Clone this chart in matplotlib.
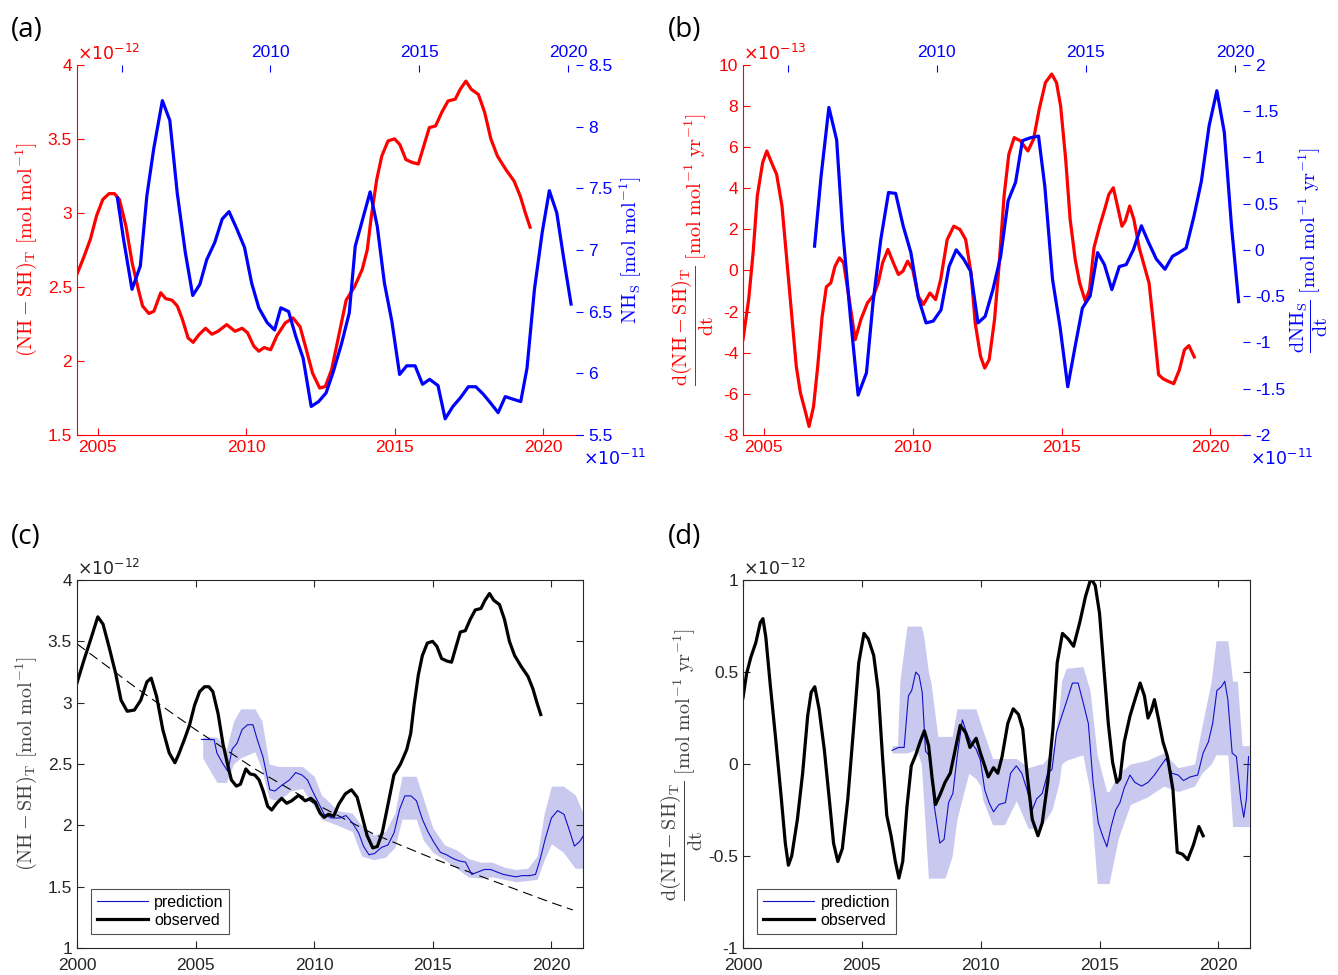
import numpy as np
import matplotlib
matplotlib.use("Agg")
import matplotlib.pyplot as plt

plt.rcParams["font.family"] = ["Liberation Sans", "DejaVu Sans"]
plt.rcParams["mathtext.fontset"] = "cm"

RED = "#ff0000"
BLUE = "#0000ff"
BAND = "#c9c9f0"
GREY = "#262626"

# ---- observed (NH - SH)_T, units 1e-12 mol/mol (panels a, c)
obs_yr = [2000.0, 2000.3, 2000.57, 2000.88, 2001.1, 2001.36, 2001.63, 2001.86, 2002.12, 2002.42,
          2002.69, 2002.95, 2003.13, 2003.36, 2003.62, 2003.89, 2004.13,
          2004.29, 2004.53, 2004.75, 2004.96, 2005.17, 2005.38, 2005.56, 2005.73, 2005.95, 2006.16,
          2006.37, 2006.51, 2006.72, 2006.89, 2007.12, 2007.29, 2007.5, 2007.68, 2007.85, 2008.04,
          2008.21, 2008.42, 2008.63, 2008.84, 2009.05, 2009.34, 2009.62, 2009.86, 2010.04, 2010.25,
          2010.42, 2010.6, 2010.82, 2011.03, 2011.31, 2011.57, 2011.81, 2012.02, 2012.23, 2012.47,
          2012.66, 2012.87, 2013.08, 2013.36, 2013.64, 2013.9, 2014.07, 2014.21, 2014.39, 2014.56,
          2014.77, 2014.99, 2015.17, 2015.37, 2015.59, 2015.79, 2015.97, 2016.16, 2016.37, 2016.58,
          2016.79, 2017.03, 2017.2, 2017.39, 2017.57, 2017.81, 2018.02, 2018.23, 2018.45, 2018.73,
          2019.01, 2019.22, 2019.39, 2019.55]
obs_val = [3.16, 3.35, 3.51, 3.70, 3.64, 3.45, 3.24, 3.02, 2.93, 2.94,
           3.02, 3.17, 3.20, 3.05, 2.78, 2.59, 2.51,
           2.58, 2.70, 2.82, 2.98, 3.09, 3.13, 3.13, 3.09, 2.91, 2.66,
           2.48, 2.37, 2.32, 2.335, 2.46, 2.42, 2.41, 2.37, 2.28, 2.155,
           2.125, 2.18, 2.22, 2.18, 2.20, 2.245, 2.20, 2.22, 2.19, 2.10,
           2.065, 2.09, 2.075, 2.17, 2.256, 2.29, 2.23, 2.075, 1.917, 1.816,
           1.827, 1.94, 2.14, 2.41, 2.50, 2.617, 2.75, 2.98, 3.226, 3.384,
           3.486, 3.50, 3.46, 3.36, 3.34, 3.33, 3.45, 3.576, 3.587, 3.68,
           3.756, 3.768, 3.835, 3.89, 3.835, 3.80, 3.68, 3.50, 3.384, 3.294,
           3.215, 3.113, 3.0, 2.903]

# ---- NH_S, units 1e-11 mol/mol (panel a, top/right axes)
nhs_yr = [2004.86, 2005.07, 2005.35, 2005.63, 2005.85, 2006.08, 2006.37, 2006.62, 2006.87, 2007.14,
          2007.39, 2007.63, 2007.86, 2008.13, 2008.38, 2008.61, 2008.87, 2009.13, 2009.37, 2009.61,
          2009.89, 2010.14, 2010.35, 2010.61, 2010.85, 2011.1, 2011.37, 2011.62, 2011.87, 2012.11,
          2012.39, 2012.65, 2012.85, 2013.1, 2013.35, 2013.59, 2013.83, 2014.08, 2014.34, 2014.58,
          2014.86, 2015.11, 2015.35, 2015.63, 2015.87, 2016.13, 2016.38, 2016.65, 2016.9, 2017.15,
          2017.39, 2017.65, 2017.89, 2018.14, 2018.41, 2018.62, 2018.87, 2019.13, 2019.37, 2019.62,
          2019.86, 2020.1]
nhs_val = [7.42, 7.08, 6.68, 6.87, 7.44, 7.82, 8.21, 8.05, 7.46, 6.98,
           6.63, 6.72, 6.92, 7.06, 7.25, 7.31, 7.17, 7.02, 6.73, 6.53,
           6.41, 6.35, 6.53, 6.50, 6.30, 6.12, 5.73, 5.77, 5.84, 6.01,
           6.24, 6.49, 7.03, 7.25, 7.47, 7.19, 6.73, 6.42, 5.99, 6.06,
           6.06, 5.91, 5.95, 5.90, 5.63, 5.73, 5.80, 5.89, 5.89, 5.83,
           5.76, 5.68, 5.81, 5.79, 5.77, 6.04, 6.68, 7.14, 7.48, 7.30,
           6.92, 6.56]

# ---- d(NH - SH)_T/dt, units 1e-13 (panel b)
dobs_b_yr = [2004.3, 2004.49, 2004.64, 2004.78, 2004.96, 2005.1, 2005.26, 2005.43, 2005.61, 2005.77,
             2005.94, 2006.09, 2006.23, 2006.38, 2006.52, 2006.67, 2006.81, 2006.96, 2007.1, 2007.25,
             2007.39, 2007.54, 2007.68, 2007.87, 2008.07, 2008.26, 2008.48, 2008.7, 2008.84, 2008.99,
             2009.17, 2009.35, 2009.52, 2009.67, 2009.83, 2010.0, 2010.19, 2010.36, 2010.58, 2010.77,
             2010.94, 2011.16, 2011.38, 2011.59, 2011.78, 2011.96, 2012.1, 2012.28, 2012.42, 2012.57,
             2012.75, 2012.9, 2013.07, 2013.23, 2013.41, 2013.62, 2013.87, 2014.06, 2014.25, 2014.46,
             2014.67, 2014.83, 2014.97, 2015.14, 2015.29, 2015.46, 2015.61, 2015.8, 2015.94, 2016.09,
             2016.28, 2016.45, 2016.59, 2016.74, 2016.88, 2017.03, 2017.14, 2017.29, 2017.43, 2017.61,
             2017.75, 2017.94, 2018.12, 2018.26, 2018.41, 2018.59, 2018.77, 2018.96, 2019.13, 2019.28,
             2019.46]
dobs_b_val = [-3.37, -1.42, 0.86, 3.62, 5.24, 5.81, 5.24, 4.67, 3.13, 0.53,
              -2.23, -4.67, -5.97, -6.78, -7.59, -6.62, -4.67, -2.23, -0.8, -0.61,
              0.2, 0.61, 0.37, -1.42, -3.37, -2.39, -1.58, -1.18, -0.61, 0.37,
              1.02, 0.37, -0.2, -0.04, 0.45, 0.04, -1.26, -1.66, -1.1, -1.42,
              -0.45, 1.5, 2.15, 1.99, 1.5, -0.12, -2.56, -4.18, -4.75, -4.34,
              -2.39, 0.2, 3.62, 5.65, 6.46, 6.3, 5.81, 6.38, 7.84, 9.14,
              9.55, 9.14, 8.0, 5.4, 2.48, 0.53, -0.61, -1.5, -0.93, 1.1,
              2.15, 2.97, 3.7, 4.02, 3.13, 2.15, 2.4, 3.13, 2.48, 1.1,
              0.37, -0.61, -3.04, -5.07, -5.27, -5.4, -5.51, -4.83, -3.86, -3.66,
              -4.21]

# ---- dNH_S/dt, units 1e-11 (panel b, top/right axes)
dnhs_yr = [2005.9, 2006.12, 2006.38, 2006.64, 2006.84, 2007.1, 2007.36, 2007.64, 2007.86, 2008.12,
           2008.38, 2008.62, 2008.87, 2009.13, 2009.38, 2009.64, 2009.88, 2010.14, 2010.41, 2010.65,
           2010.9, 2011.13, 2011.38, 2011.62, 2011.88, 2012.14, 2012.39, 2012.64, 2012.87, 2013.12,
           2013.41, 2013.62, 2013.88, 2014.13, 2014.39, 2014.64, 2014.88, 2015.14, 2015.39, 2015.62,
           2015.87, 2016.12, 2016.35, 2016.59, 2016.86, 2017.1, 2017.36, 2017.65, 2017.9, 2018.12,
           2018.36, 2018.62, 2018.87, 2019.13, 2019.39, 2019.64, 2019.88, 2020.12]
dnhs_val = [0.04, 0.8, 1.54, 1.19, 0.22, -0.72, -1.57, -1.33, -0.57, 0.11,
            0.62, 0.61, 0.26, -0.03, -0.52, -0.79, -0.77, -0.65, -0.18, 0.0,
            -0.1, -0.23, -0.79, -0.72, -0.43, -0.07, 0.53, 0.73, 1.18, 1.21,
            1.23, 0.69, -0.32, -0.83, -1.48, -1.04, -0.63, -0.5, -0.03, -0.16,
            -0.43, -0.18, -0.16, 0.0, 0.26, 0.08, -0.1, -0.21, -0.07, -0.03,
            0.02, 0.36, 0.74, 1.34, 1.72, 1.27, 0.26, -0.56]

# ---- panel c: prediction, uncertainty band, trend (units 1e-12)
pred_c_yr = [2005.25, 2005.78, 2005.9, 2006.13, 2006.36, 2006.54, 2006.75, 2006.96, 2007.19, 2007.42,
             2007.6, 2007.84, 2008.13, 2008.34, 2008.66, 2008.96, 2009.22, 2009.49, 2009.72, 2009.93,
             2010.19, 2010.42, 2010.72, 2011.08, 2011.34, 2011.61, 2011.87, 2012.08, 2012.31, 2012.54,
             2012.84, 2013.11, 2013.37, 2013.6, 2013.82, 2014.08, 2014.31, 2014.56, 2014.79, 2015.05,
             2015.32, 2015.58, 2015.85, 2016.11, 2016.38, 2016.64, 2016.91, 2017.17, 2017.44, 2017.7,
             2017.97, 2018.23, 2018.5, 2018.76, 2019.08, 2019.33, 2019.52, 2019.74, 2020.0, 2020.26,
             2020.53, 2020.74, 2020.97, 2021.2, 2021.33]
pred_c_val = [2.70, 2.70, 2.59, 2.51, 2.44, 2.62, 2.67, 2.78, 2.82, 2.82,
              2.70, 2.56, 2.29, 2.28, 2.33, 2.37, 2.43, 2.41, 2.37, 2.28,
              2.18, 2.09, 2.06, 2.06, 2.08, 2.02, 1.94, 1.83, 1.76, 1.77,
              1.82, 1.84, 1.94, 2.13, 2.24, 2.24, 2.20, 2.05, 1.95, 1.86,
              1.78, 1.76, 1.73, 1.71, 1.70, 1.60, 1.62, 1.64, 1.64, 1.62,
              1.60, 1.59, 1.58, 1.59, 1.59, 1.60, 1.72, 1.89, 2.06, 2.12,
              2.09, 1.97, 1.83, 1.87, 1.91]
band_c_yr = [2005.3, 2005.9, 2006.3, 2006.6, 2006.9, 2007.5, 2007.8, 2008.1, 2008.5, 2009.0,
             2009.5, 2010.0, 2010.3, 2011.0, 2011.6, 2012.0, 2012.5, 2013.0, 2013.4, 2013.7,
             2014.3, 2014.6, 2015.0, 2015.5, 2016.0, 2016.5, 2017.0, 2017.5, 2018.0, 2018.5,
             2019.0, 2019.4, 2019.7, 2020.0, 2020.5, 2021.0, 2021.33]
band_c_hi = [2.72, 2.72, 2.62, 2.85, 2.95, 2.95, 2.85, 2.50, 2.48, 2.48,
             2.48, 2.40, 2.25, 2.12, 2.10, 2.00, 1.92, 1.95, 2.10, 2.40,
             2.40, 2.22, 1.98, 1.84, 1.80, 1.73, 1.70, 1.70, 1.66, 1.64,
             1.65, 1.75, 2.10, 2.32, 2.32, 2.25, 2.10]
band_c_lo = [2.55, 2.35, 2.35, 2.50, 2.55, 2.60, 2.45, 2.22, 2.20, 2.28,
             2.30, 2.15, 2.05, 2.00, 1.95, 1.75, 1.72, 1.74, 1.82, 2.05,
             2.05, 1.88, 1.78, 1.72, 1.65, 1.58, 1.57, 1.58, 1.56, 1.54,
             1.55, 1.56, 1.72, 1.85, 1.78, 1.65, 1.65]
trend_yr = [2000.0, 2002.5, 2005.0, 2007.5, 2010.0, 2012.5, 2015.0, 2017.5, 2020.0, 2020.9]
trend_val = [3.48, 3.12, 2.78, 2.46, 2.18, 1.93, 1.73, 1.55, 1.37, 1.31]

# ---- panel d: observed derivative, prediction, band (units 1e-12)
dobs_d_yr = [2000.0, 2000.15, 2000.33, 2000.54, 2000.73, 2000.84, 2000.96, 2001.14, 2001.38, 2001.6,
             2001.78, 2001.91, 2002.05, 2002.29, 2002.51, 2002.72, 2002.87, 2003.02, 2003.2, 2003.42,
             2003.63, 2003.81, 2003.99, 2004.18, 2004.41, 2004.65, 2004.87, 2005.09, 2005.27, 2005.5,
             2005.69, 2005.87, 2006.05, 2006.23, 2006.41, 2006.56, 2006.72, 2006.9, 2007.08, 2007.27,
             2007.45, 2007.63, 2007.81, 2007.96, 2008.1, 2008.28, 2008.5, 2008.72, 2008.9, 2009.14,
             2009.37, 2009.55, 2009.81, 2009.99, 2010.17, 2010.32, 2010.54, 2010.72, 2010.9, 2011.14,
             2011.37, 2011.59, 2011.77, 2011.95, 2012.17, 2012.41, 2012.59, 2012.82, 2013.04, 2013.22,
             2013.44, 2013.68, 2013.91, 2014.17, 2014.41, 2014.64, 2014.82, 2015.0, 2015.19, 2015.37,
             2015.55, 2015.73, 2015.86, 2016.04, 2016.28, 2016.49, 2016.71, 2016.89, 2017.04, 2017.18,
             2017.31, 2017.49, 2017.67, 2017.86, 2018.09, 2018.27, 2018.49, 2018.71, 2018.95, 2019.18,
             2019.36]
dobs_d_val = [0.36, 0.49, 0.58, 0.66, 0.77, 0.79, 0.69, 0.44, 0.13, -0.17,
              -0.43, -0.55, -0.50, -0.30, -0.05, 0.26, 0.39, 0.42, 0.30, 0.08,
              -0.19, -0.43, -0.53, -0.46, -0.19, 0.19, 0.55, 0.71, 0.68, 0.59,
              0.40, 0.04, -0.28, -0.39, -0.53, -0.62, -0.53, -0.23, -0.01, 0.05,
              0.12, 0.18, 0.10, -0.08, -0.22, -0.17, -0.10, -0.05, 0.06, 0.21,
              0.17, 0.09, 0.14, 0.06, -0.01, -0.07, -0.02, -0.05, 0.04, 0.22,
              0.30, 0.27, 0.19, -0.05, -0.30, -0.39, -0.32, -0.10, 0.19, 0.55,
              0.71, 0.68, 0.64, 0.77, 0.91, 1.01, 0.97, 0.82, 0.51, 0.22,
              0.01, -0.10, -0.08, 0.12, 0.26, 0.35, 0.44, 0.37, 0.25, 0.29,
              0.35, 0.24, 0.12, 0.04, -0.14, -0.48, -0.49, -0.52, -0.44, -0.34,
              -0.39]
pred_d_yr = [2006.27, 2006.54, 2006.78, 2006.96, 2007.1, 2007.27, 2007.41, 2007.54, 2007.68, 2007.87,
             2008.05, 2008.28, 2008.46, 2008.65, 2008.83, 2009.01, 2009.23, 2009.41, 2009.59, 2009.81,
             2009.99, 2010.17, 2010.35, 2010.54, 2010.77, 2011.04, 2011.26, 2011.5, 2011.73, 2011.95,
             2012.17, 2012.35, 2012.59, 2012.82, 2013.0, 2013.19, 2013.41, 2013.59, 2013.86, 2014.1,
             2014.32, 2014.53, 2014.73, 2014.95, 2015.13, 2015.31, 2015.49, 2015.68, 2015.86, 2016.04,
             2016.28, 2016.49, 2016.77, 2017.04, 2017.31, 2017.58, 2017.8, 2018.04, 2018.31, 2018.53,
             2018.82, 2019.13, 2019.36, 2019.58, 2019.76, 2019.94, 2020.13, 2020.27, 2020.4, 2020.58,
             2020.76, 2020.94, 2021.07, 2021.18, 2021.27]
pred_d_val = [0.074, 0.09, 0.09, 0.37, 0.40, 0.50, 0.48, 0.39, 0.07, 0.04,
              -0.23, -0.43, -0.41, -0.21, -0.16, 0.04, 0.24, 0.17, 0.12, 0.08,
              0.02, -0.14, -0.21, -0.26, -0.22, -0.21, -0.05, -0.01, -0.05, -0.14,
              -0.25, -0.19, -0.16, -0.05, -0.03, 0.17, 0.26, 0.33, 0.44, 0.44,
              0.33, 0.22, -0.10, -0.32, -0.39, -0.45, -0.34, -0.25, -0.21, -0.13,
              -0.06, -0.10, -0.12, -0.10, -0.06, -0.01, 0.03, -0.05, -0.06, -0.09,
              -0.07, -0.06, 0.06, 0.12, 0.22, 0.40, 0.42, 0.45, 0.35, 0.06,
              0.04, -0.19, -0.29, -0.19, 0.04]
band_d_yr = [2006.27, 2006.5, 2006.6, 2006.9, 2007.3, 2007.5, 2007.6, 2007.8, 2007.9, 2008.2,
             2008.5, 2008.8, 2009.0, 2009.5, 2009.8, 2010.0, 2010.1, 2010.5, 2011.0, 2011.5,
             2012.0, 2012.5, 2012.6, 2013.0, 2013.3, 2013.4, 2013.6, 2014.3, 2014.6, 2014.9,
             2015.3, 2015.4, 2015.8, 2016.3, 2017.0, 2017.7, 2018.3, 2019.0, 2019.3, 2019.7,
             2019.9, 2020.0, 2020.4, 2020.6, 2020.8, 2021.0, 2021.3]
band_d_hi = [0.10, 0.10, 0.45, 0.75, 0.75, 0.75, 0.70, 0.50, 0.45, 0.15,
             0.15, 0.15, 0.30, 0.30, 0.30, 0.22, 0.18, 0.03, 0.03, 0.03,
             -0.02, 0.0, 0.0, 0.06, 0.30, 0.45, 0.52, 0.53, 0.40, 0.05,
             -0.15, -0.15, -0.05, 0.0, 0.02, 0.06, -0.02, 0.0, 0.20, 0.45,
             0.67, 0.67, 0.67, 0.45, 0.45, 0.10, 0.10]
band_d_lo = [0.06, 0.06, 0.06, 0.06, 0.08, 0.0, -0.20, -0.62, -0.62, -0.62,
             -0.62, -0.50, -0.30, -0.05, -0.08, -0.12, -0.20, -0.33, -0.33, -0.20,
             -0.35, -0.35, -0.33, -0.25, -0.10, 0.0, 0.02, 0.05, -0.15, -0.65,
             -0.65, -0.65, -0.40, -0.22, -0.18, -0.12, -0.15, -0.12, -0.05, 0.0,
             0.05, 0.05, 0.05, -0.34, -0.34, -0.34, -0.34]

# ---- axis ranges / ticks
red_xlim = (2004.3, 2021.33)
blue_xlim = (2003.5, 2020.5)
year_ticks = [2005, 2010, 2015, 2020]
top_labels = ["", "2010", "2015", "2020"]
cd_xlim = (2000, 2021.33)
cd_xticks = [2000, 2005, 2010, 2015, 2020]

TICK_FS = 12.5
LAB_FS = 14.5

fig = plt.figure(figsize=(13.38, 9.75), dpi=100)

rect_a = [0.0575, 0.554, 0.3782, 0.3795]
rect_b = [0.5553, 0.554, 0.3789, 0.3795]
rect_c = [0.0575, 0.0277, 0.3782, 0.3774]
rect_d = [0.5553, 0.0277, 0.3789, 0.3774]

LAB_OBS = r"$(\mathrm{NH}-\mathrm{SH})_{\mathrm{T}}\ [\mathrm{mol\ mol}^{-1}]$"
LAB_DOBS = r"$\dfrac{\mathrm{d(NH-SH)_T}}{\mathrm{dt}}\ [\mathrm{mol\ mol}^{-1}\ \mathrm{yr}^{-1}]$"


def dual_axes(rect, name):
    ax = fig.add_axes(rect, label=name + "_red")
    ax2 = fig.add_axes(rect, label=name + "_blue", frameon=False)
    ax2.patch.set_visible(False)
    ax2.xaxis.tick_top()
    ax2.yaxis.tick_right()
    ax2.yaxis.set_label_position("right")
    for s in ("top", "right"):
        ax.spines[s].set_visible(False)
    for s in ("left", "bottom"):
        ax.spines[s].set_color(RED)
    ax2.spines["top"].set_visible(True)
    ax2.spines["right"].set_visible(True)
    ax2.spines["top"].set_color(BLUE)
    ax2.spines["right"].set_color(BLUE)
    ax.tick_params(direction="in", colors=RED, labelsize=TICK_FS, length=5)
    ax2.tick_params(direction="in", colors=BLUE, labelsize=TICK_FS, length=5)
    ax.set_xlim(*red_xlim)
    ax2.set_xlim(*blue_xlim)
    ax.set_xticks(year_ticks)
    ax2.set_xticks(year_ticks)
    ax2.set_xticklabels(top_labels)
    return ax, ax2


def offset_label(ax, txt, color, x, y, va, ha="left"):
    ax.text(x, y, txt, transform=ax.transAxes, color=color, fontsize=TICK_FS,
            ha=ha, va=va, math_fontfamily="dejavusans")


# ---------------- (a)
ax, ax2 = dual_axes(rect_a, "a")
ax.plot(obs_yr, obs_val, color=RED, lw=2.3)
ax2.plot(nhs_yr, nhs_val, color=BLUE, lw=2.3)
ax.set_ylim(1.5, 4)
ax.set_yticks([1.5, 2, 2.5, 3, 3.5, 4])
ax.set_yticklabels(["1.5", "2", "2.5", "3", "3.5", "4"])
ax2.set_ylim(5.5, 8.5)
ax2.set_yticks([5.5, 6, 6.5, 7, 7.5, 8, 8.5])
ax2.set_yticklabels(["5.5", "6", "6.5", "7", "7.5", "8", "8.5"])
ax.set_ylabel(LAB_OBS, color=RED, fontsize=LAB_FS, labelpad=6)
ax2.set_ylabel(r"$\mathrm{NH_S}\ [\mathrm{mol\ mol}^{-1}]$", color=BLUE,
               fontsize=LAB_FS, labelpad=4)
offset_label(ax, r"$\times10^{-12}$", RED, 0.0, 1.005, "bottom")
offset_label(ax2, r"$\times10^{-11}$", BLUE, 1.0, -0.035, "top")

# ---------------- (b)
ax, ax2 = dual_axes(rect_b, "b")
ax.plot(dobs_b_yr, dobs_b_val, color=RED, lw=2.3)
ax2.plot(dnhs_yr, dnhs_val, color=BLUE, lw=2.3)
ax.set_ylim(-8, 10)
ax.set_yticks(range(-8, 11, 2))
ax.set_yticklabels([str(v) for v in range(-8, 11, 2)])
ax2.set_ylim(-2, 2)
ax2.set_yticks([-2, -1.5, -1, -0.5, 0, 0.5, 1, 1.5, 2])
ax2.set_yticklabels(["-2", "-1.5", "-1", "-0.5", "0", "0.5", "1", "1.5", "2"])
ax.set_ylabel(LAB_DOBS, color=RED, fontsize=LAB_FS, labelpad=2)
ax2.set_ylabel(r"$\dfrac{\mathrm{dNH_S}}{\mathrm{dt}}\ [\mathrm{mol\ mol}^{-1}\ \mathrm{yr}^{-1}]$",
               color=BLUE, fontsize=LAB_FS, labelpad=2)
offset_label(ax, r"$\times10^{-13}$", RED, 0.0, 1.005, "bottom")
offset_label(ax2, r"$\times10^{-11}$", BLUE, 1.0, -0.035, "top")


def style_box(ax):
    for s in ax.spines.values():
        s.set_color(GREY)
        s.set_linewidth(0.8)
    ax.tick_params(direction="in", top=True, right=True, colors=GREY,
                   labelsize=TICK_FS, length=5)
    ax.tick_params(axis="x", pad=7)
    ax.set_xlim(*cd_xlim)
    ax.set_xticks(cd_xticks)


def add_legend(ax):
    leg = ax.legend(loc="lower left", fontsize=11.5, frameon=True, fancybox=False,
                    borderaxespad=0.9, handlelength=3.2, labelspacing=0.2,
                    borderpad=0.35, handletextpad=0.4)
    leg.get_frame().set_edgecolor(GREY)
    leg.get_frame().set_linewidth(0.8)


# ---------------- (c)
ax = fig.add_axes(rect_c)
style_box(ax)
ax.fill_between(band_c_yr, band_c_lo, band_c_hi, color=BAND, lw=0)
ax.plot(trend_yr, trend_val, color="black", lw=0.8, ls=(0, (9, 5)))
ax.plot(pred_c_yr, pred_c_val, color="#1010c8", lw=0.8, label="prediction")
ax.plot(obs_yr, obs_val, color="black", lw=2.3, label="observed")
ax.set_ylim(1, 4)
ax.set_yticks([1, 1.5, 2, 2.5, 3, 3.5, 4])
ax.set_yticklabels(["1", "1.5", "2", "2.5", "3", "3.5", "4"])
ax.set_ylabel(LAB_OBS, color="#404040", fontsize=LAB_FS, labelpad=6)
offset_label(ax, r"$\times10^{-12}$", GREY, 0.0, 1.005, "bottom")
add_legend(ax)

# ---------------- (d)
ax = fig.add_axes(rect_d)
style_box(ax)
ax.fill_between(band_d_yr, band_d_lo, band_d_hi, color=BAND, lw=0)
ax.plot(pred_d_yr, pred_d_val, color="#1010c8", lw=0.8, label="prediction")
ax.plot(dobs_d_yr, dobs_d_val, color="black", lw=2.3, label="observed")
ax.set_ylim(-1, 1)
ax.set_yticks([-1, -0.5, 0, 0.5, 1])
ax.set_yticklabels(["-1", "-0.5", "0", "0.5", "1"])
ax.set_ylabel(LAB_DOBS, color="#404040", fontsize=LAB_FS, labelpad=2)
offset_label(ax, r"$\times10^{-12}$", GREY, 0.0, 1.005, "bottom")
add_legend(ax)

# panel letters
for lbl, x, y in [("(a)", 0.008, 0.969), ("(b)", 0.499, 0.969),
                  ("(c)", 0.008, 0.449), ("(d)", 0.499, 0.449)]:
    fig.text(x, y, lbl, fontsize=20, family=["Open Sans", "DejaVu Sans"],
             ha="left", va="center")

fig.savefig("out.png", dpi=100)
